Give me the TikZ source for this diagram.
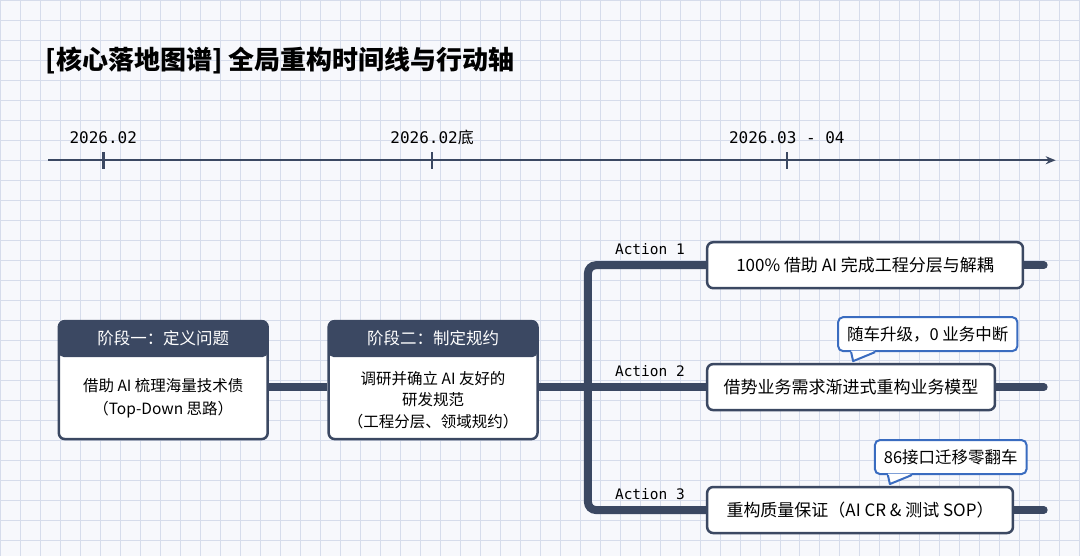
\documentclass[tikz,border=0pt]{standalone}
\usepackage{fontspec}
\setmainfont{Noto Sans CJK SC}
\newfontfamily\monofont{DejaVu Sans Mono}
\newfontfamily\cjk{Noto Sans CJK SC}
\usetikzlibrary{arrows.meta, positioning, calc, backgrounds}
\definecolor{navy}{HTML}{3B4862}
\definecolor{gridc}{HTML}{D6DCEB}
\definecolor{bgc}{HTML}{F7F8FC}
\definecolor{calloutc}{HTML}{3A6CC0}
\begin{document}
\begin{tikzpicture}[
    x=1pt, y=-1pt,
    every node/.style={font=\fontsize{15.5}{19}\selectfont, text=black}, % 统一字体
    axis/.style={navy, line width=2.5pt, -{Stealth[length=10pt,width=8pt]}}, % 时间轴
    tick/.style={navy, line width=2.5pt}, % 刻度
    date/.style={font=\monofont\fontsize{16}{18}\selectfont}, % 日期
    bar/.style={navy, line width=8pt, rounded corners=8pt}, % 粗连线
    stage/.style={draw=navy, line width=2.5pt, fill=white, rounded corners=6pt,
        minimum width=209pt, minimum height=118pt}, % 阶段框
    head/.style={fill=navy, rounded corners=5pt, minimum width=209pt, minimum height=37pt,
        text=white, font=\fontsize{16.5}{19}\selectfont}, % 阶段标题
    act/.style={draw=navy, line width=2.5pt, fill=white, rounded corners=6pt,
        minimum height=46pt, inner xsep=12pt, font=\fontsize{17}{19}\selectfont}, % 行动框
    actlab/.style={font=\monofont\fontsize{14.5}{16}\selectfont}, % Action 标签
    note/.style={draw=calloutc, line width=2pt, fill=white, rounded corners=5pt,
        minimum height=34pt, inner xsep=9pt, font=\fontsize{16.5}{19}\selectfont} % 气泡
]
    % 标题
    \node[anchor=west, font=\bfseries\fontsize{26}{30}\selectfont] (title) at (42,60)
        {[核心落地图谱] 全局重构时间线与行动轴};

    % 时间轴
    \coordinate (tstart) at (48,160);
    \coordinate (tend) at (1056,160);
    \draw[axis] (tstart) -- (tend);
    \foreach \x/\lab/\n in {103/2026.02/a, 432/2026.02{\cjk 底}/b, 787/2026.03 - 04/c} {
        \draw[tick] (\x,152) -- (\x,169);
        \node[date] (d\n) at (\x,137) {\lab};
    }

    % 阶段框
    \node[stage] (s1) at (163,380) {};
    \node[head, anchor=north] (h1) at (s1.north) {阶段一：定义问题};
    \node[align=center, font=\fontsize{15.5}{23}\selectfont] (b1) at (163,398)
        {借助 AI 梳理海量技术债\\（Top-Down 思路）};
    \node[stage] (s2) at (433,380) {};
    \node[head, anchor=north] (h2) at (s2.north) {阶段二：制定规约};
    \node[align=center, font=\fontsize{15.5}{21.5}\selectfont] (b2) at (433,400)
        {调研并确立 AI 友好的\\研发规范\\（工程分层、领域规约）};

    % 行动框
    \node[act, anchor=west, minimum width=316pt] (a1) at (706,265) {100\% 借助 AI 完成工程分层与解耦};
    \node[act, anchor=west, minimum width=288pt] (a2) at (706,387) {借势业务需求渐进式重构业务模型};
    \node[act, anchor=west, minimum width=306pt] (a3) at (706,510) {重构质量保证（AI CR \& 测试 SOP）};

    % Action 标签
    \node[actlab] (l1) at (650,249) {Action 1};
    \node[actlab] (l2) at (650,371) {Action 2};
    \node[actlab] (l3) at (650,494) {Action 3};

    % 气泡
    \node[note] (n1) at (928,334) {随车升级，0 业务中断};
    \node[note] (n2) at (951,457) {86接口迁移零翻车};
    \foreach \n in {n1,n2} {
        \fill[white] ($(\n.south west)+(14,-1.5)$) -- ($(\n.south west)+(16,9)$) -- ($(\n.south west)+(38,-1.5)$) -- cycle;
        \draw[calloutc, line width=2pt, line join=round]
            ($(\n.south west)+(14,0)$) -- ($(\n.south west)+(16,9)$) -- ($(\n.south west)+(38,0)$);
    }

    % 背景、网格与粗连线
    \coordinate (trunk) at (588,387);
    \coordinate (e1) at (1044,265);
    \coordinate (e2) at (1044,387);
    \coordinate (e3) at (1044,510);
    \begin{scope}[on background layer]
    \fill[bgc] (0,0) rectangle (1080,556);
    \foreach \x in {0,20,...,1080} \draw[gridc, line width=0.7pt] (\x,0) -- (\x,556);
    \foreach \y in {0,20,...,556} \draw[gridc, line width=0.7pt] (0,\y) -- (1080,\y);
    \draw[bar] (s1.east |- trunk) -- (s2.west |- trunk);
    \draw[bar] (s2.east |- trunk) -- (trunk);
    \draw[bar] (a1.west) -| (trunk) |- (a3.west);
    \draw[bar] (trunk) -- (a2.west);
    \draw[bar, line cap=round] (a1.east) -- (e1);
    \draw[bar, line cap=round] (a2.east) -- (e2);
    \draw[bar, line cap=round] (a3.east) -- (e3);
    \end{scope}
    \useasboundingbox (0,0) rectangle (1080,556);
\end{tikzpicture}
\end{document}
